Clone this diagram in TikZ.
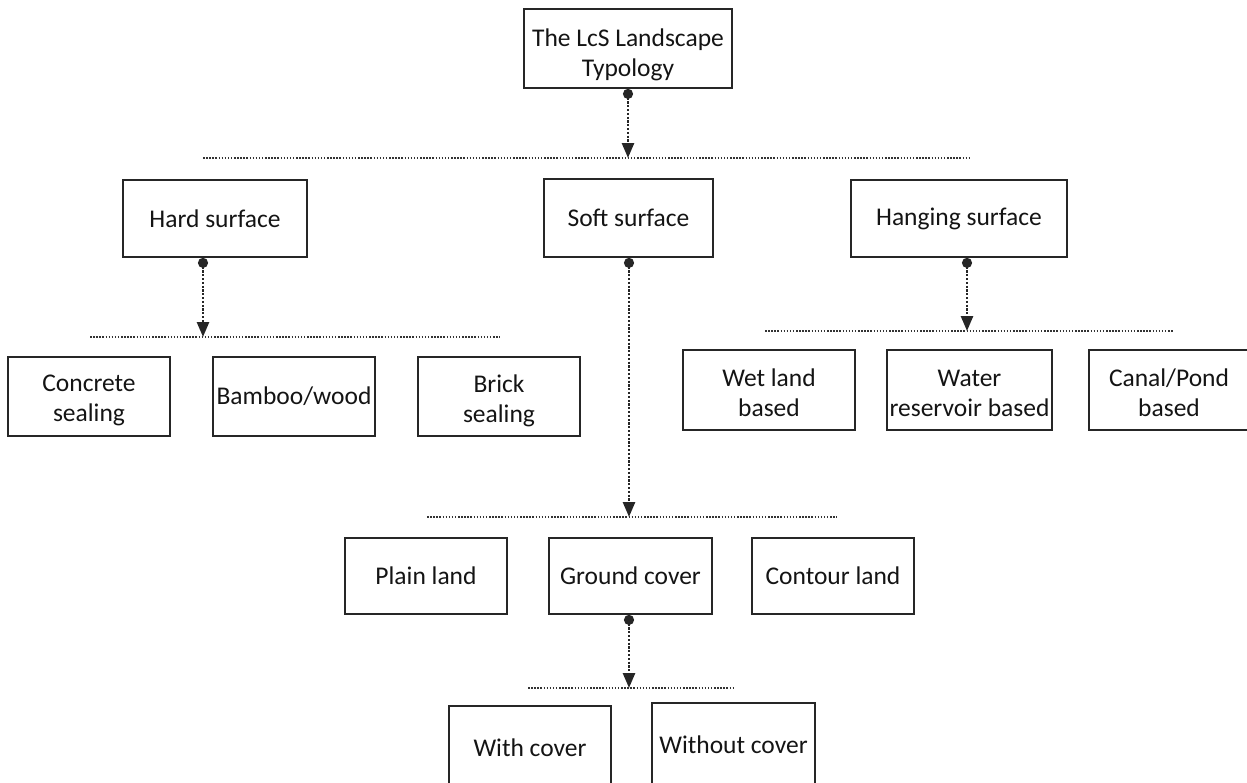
\documentclass[tikz,border=0pt]{standalone}
\usepackage{fontspec}
\setmainfont{Carlito}
\usetikzlibrary{arrows.meta}
\newcommand\padtop[2]{\raisebox{0pt}[\dimexpr\height+#1\relax][\depth]{#2}}
\begin{document}
\begin{tikzpicture}[x=1pt,y=-1pt,
  box/.style={draw=black!85,line width=1.8pt,minimum width=#1,inner sep=0pt,align=center,font=\fontsize{25.5}{30}\selectfont,text=black!92},
  box/.default=162pt,
  bar/.style={line width=2pt,dash pattern=on 1.5pt off 1.6pt,black!80},
  link/.style={line width=2.6pt,dash pattern=on 2.2pt off 1.6pt,black!85,{Circle[length=10pt,width=10pt]}-{Triangle[length=15pt,width=12pt]},shorten >=0pt}
]
\useasboundingbox (0,0) rectangle (1247,782);
\clip (0,0) rectangle (1247,782);
% top
\node[box=208pt,minimum height=79pt] (top) at (628,48.5) {\padtop{12pt}{The LcS Landscape}\\Typology};
\coordinate (b1l) at (203,158); \coordinate (b1r) at (970,158);
\draw[bar] (b1l) -- (b1r);
\coordinate (t1) at (628,158);
\draw[link] (top.south) -- (t1);
% level 1
\node[box=184pt,minimum height=77pt] (hard) at (215,218.5) {Hard surface};
\node[box=169pt,minimum height=78pt] (soft) at (628.5,218) {Soft surface};
\node[box=216pt,minimum height=77pt] (hang) at (959,218.5) {Hanging surface};
% hard children
\coordinate (b2l) at (90,337); \coordinate (b2r) at (500,337);
\draw[bar] (b2l) -- (b2r);
\coordinate (t2) at (203,337);
\draw[link] (hard.south -| t2) -- (t2);
\node[box,minimum height=79pt] (conc) at (89,396.5) {\padtop{8pt}{Concrete}\\sealing};
\node[box,minimum height=79pt] (bamb) at (294,396.5) {Bamboo/wood};
\node[box,minimum height=79pt] (brick) at (499,396.5) {\padtop{8pt}{Brick}\\sealing};
% hanging children
\coordinate (b3l) at (765,331); \coordinate (b3r) at (1173,331);
\draw[bar] (b3l) -- (b3r);
\coordinate (t3) at (967,331);
\draw[link] (hang.south -| t3) -- (t3);
\node[box=172pt,minimum height=80pt] (wet) at (769,390) {\padtop{6pt}{Wet land}\\based};
\node[box=165pt,minimum height=80pt] (water) at (969.5,390) {\padtop{6pt}{Water}\\reservoir based};
\node[box=160pt,minimum height=80pt] (canal) at (1169,390) {\padtop{6pt}{Canal/Pond}\\based};
% soft children
\coordinate (b4l) at (427,517); \coordinate (b4r) at (837,517);
\draw[bar] (b4l) -- (b4r);
\coordinate (t4) at (629,517);
\draw[link] (soft.south -| t4) -- (t4);
\node[box,minimum height=76pt] (plain) at (426,576) {Plain land};
\node[box=163pt,minimum height=76pt] (ground) at (630.5,576) {Ground cover};
\node[box,minimum height=76pt] (contour) at (833,576) {Contour land};
% ground children
\coordinate (b5l) at (528,688); \coordinate (b5r) at (735,688);
\draw[bar] (b5l) -- (b5r);
\coordinate (t5) at (629,688);
\draw[link] (ground.south -| t5) -- (t5);
\node[box,minimum height=96pt] (with) at (530,754) {\raisebox{6pt}[\height][\depth]{With cover}};
\node[box=163pt,minimum height=100pt] (without) at (733.5,753) {\raisebox{8pt}[\height][\depth]{Without cover}};
\end{tikzpicture}
\end{document}
